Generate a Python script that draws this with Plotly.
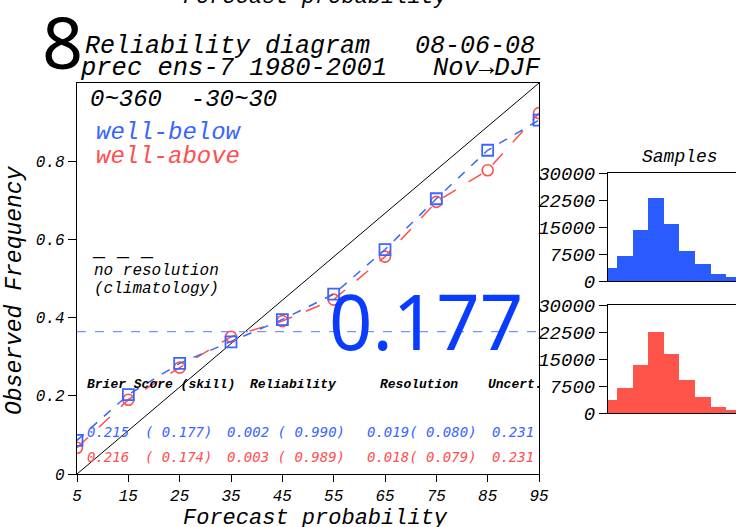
import plotly.graph_objects as go

W, H = 736, 527

# ---------------- data ----------------
prob_bins = [5, 15, 25, 35, 45, 55, 65, 75, 85, 95]
obs_below = [0.086, 0.203, 0.283, 0.338, 0.395, 0.460, 0.574, 0.704, 0.828, 0.905]
obs_above = [0.067, 0.190, 0.272, 0.351, 0.391, 0.446, 0.556, 0.696, 0.777, 0.923]
climatology = 0.364
samples_below = [3530, 7060, 14210, 23030, 15790, 8360, 4740, 1860, 1110, 500]
samples_above = [3690, 7020, 13290, 22430, 16430, 9050, 4520, 1750, 830, 400]
x_ticks = [5, 15, 25, 35, 45, 55, 65, 75, 85, 95]
y_ticks = [0, 0.2, 0.4, 0.6, 0.8]
y_tick_text = ["0", "0.2", "0.4", "0.6", "0.8"]
hist_ticks = [0, 7500, 15000, 22500, 30000]
hist_tick_text = ["0", "7500", "15000", "22500", "30000"]
stat_header = ["Brier Score (skill)", "Reliability", "Resolution", "Uncert."]
stats_below = ["0.215", "( 0.177)", "0.002 ( 0.990)", "0.019( 0.080)", "0.231"]
stats_above = ["0.216", "( 0.174)", "0.003 ( 0.989)", "0.018( 0.079)", "0.231"]

BLUE = "#3a66ff"
RED = "#ff5050"
CLIM = "#7393ff"
HERSHEY = "Liberation Mono"
SIMPLEX = "DejaVu Sans Mono"
NB = "\u00a0"


def px(x):
    return x / W


def py(y):
    return 1 - y / H


fig = go.Figure()

# diagonal (perfect reliability)
fig.add_trace(go.Scatter(x=[prob_bins[0], prob_bins[-1]], y=[0, 1], mode="lines",
                         line=dict(color="black", width=1), showlegend=False,
                         xaxis="x", yaxis="y"))
# climatology
fig.add_trace(go.Scatter(x=[prob_bins[0], prob_bins[-1]], y=[climatology, climatology],
                         mode="lines", line=dict(color=CLIM, width=1.2, dash="dash"),
                         showlegend=False, xaxis="x", yaxis="y"))
# series
fig.add_trace(go.Scatter(x=prob_bins, y=obs_above, mode="lines+markers",
                         line=dict(color=RED, width=1.5, dash="longdash"),
                         marker=dict(symbol="circle-open", size=11, color=RED,
                                     line=dict(width=1.6, color=RED)),
                         showlegend=False, cliponaxis=True, xaxis="x", yaxis="y"))
fig.add_trace(go.Scatter(x=prob_bins, y=obs_below, mode="lines+markers",
                         line=dict(color=BLUE, width=1.5, dash="dash"),
                         marker=dict(symbol="square-open", size=11, color=BLUE,
                                     line=dict(width=1.8, color=BLUE)),
                         showlegend=False, cliponaxis=True, xaxis="x", yaxis="y"))

# histograms
fig.add_trace(go.Bar(x=prob_bins, y=samples_below, width=10,
                     marker=dict(color="#2a5bff", line=dict(width=0)),
                     showlegend=False, xaxis="x2", yaxis="y2"))
fig.add_trace(go.Bar(x=prob_bins, y=samples_above, width=10,
                     marker=dict(color="#ff5449", line=dict(width=0)),
                     showlegend=False, xaxis="x3", yaxis="y3"))

tickfont = dict(family=HERSHEY, size=16, color="black", style="italic")
histfont = dict(family=HERSHEY, size=19, color="black", style="italic")
common = dict(showgrid=False, zeroline=False, automargin=False)

fig.update_layout(
    width=W, height=H, autosize=False,
    margin=dict(l=0, r=0, t=0, b=0, pad=0, autoexpand=False),
    paper_bgcolor="white", plot_bgcolor="white",
    bargap=0, hovermode=False,
    xaxis=dict(domain=[px(77), px(539)], range=[5, 95], tickvals=x_ticks,
               ticks="outside", ticklen=7, tickcolor="black", tickfont=tickfont,
               showline=True, linecolor="black", linewidth=1.2, mirror=True, **common),
    yaxis=dict(domain=[py(474), py(83)], range=[0, 1], tickvals=y_ticks, ticktext=y_tick_text,
               ticks="outside", ticklen=8, tickcolor="black", tickfont=tickfont,
               showline=True, linecolor="black", linewidth=1.2, mirror=True, **common),
    xaxis2=dict(domain=[px(608), 1.0], range=[4.2, 86.2], anchor="y2", showticklabels=False,
                ticks="", showline=True, linecolor="black", linewidth=1, mirror=True, **common),
    yaxis2=dict(domain=[py(281), py(173)], range=[0, 30000], anchor="x2",
                tickvals=hist_ticks, ticktext=hist_tick_text,
                ticks="outside", ticklen=8, tickcolor="black", tickfont=histfont,
                showline=True, linecolor="black", linewidth=1, **common),
    xaxis3=dict(domain=[px(608), 1.0], range=[4.2, 86.2], anchor="y3", showticklabels=False,
                ticks="", showline=True, linecolor="black", linewidth=1, mirror=True, **common),
    yaxis3=dict(domain=[py(413), py(305)], range=[0, 30000], anchor="x3",
                tickvals=hist_ticks, ticktext=hist_tick_text,
                ticks="outside", ticklen=8, tickcolor="black", tickfont=histfont,
                showline=True, linecolor="black", linewidth=1, **common),
)

ann = []


def A(text, x, y, size, color="black", family=HERSHEY, xanchor="left", yanchor="middle",
      italic=True, angle=0, weight="normal"):
    ann.append(dict(text=text, x=px(x), y=py(y), xref="paper", yref="paper",
                    xanchor=xanchor, yanchor=yanchor, showarrow=False, textangle=angle,
                    font=dict(family=family, size=size, color=color,
                              style="italic" if italic else "normal", weight=weight)))


# cut-off title of the panel above
A("Forecast probability", 315, -2, 22, xanchor="center")
# panel number
A("8", 62, 41, 72, family="Noto Sans", xanchor="center", italic=False)
# titles
A("Reliability diagram" + NB * 3 + "08-06-08", 83, 46, 25)
A("prec ens-7 1980-2001" + NB * 3 + "Nov\u2192DJF", 78, 69, 25.5)
# inside annotations
A("0~360" + NB * 2 + "-30~30", 88, 99, 24)
A("well-below", 94, 132, 24, color=BLUE)
A("well-above", 94, 156, 24, color=RED)
A("\u2014" + NB + "\u2014" + NB + "\u2014", 90, 257, 20, italic=False)
A("no resolution", 92, 271, 16)
A("(climatology)", 92, 289, 16)
# stats
hdr_x = [85, 248, 378, 486]
for t, x in zip(stat_header, hdr_x):
    A(t, x, 384, 13, weight="bold")
col_x = [85, 143, 225, 365, 490]
for t, x in zip(stats_below, col_x):
    A(t, x, 432, 14, color=BLUE, family=SIMPLEX)
for t, x in zip(stats_above, col_x):
    A(t, x, 457, 14, color=RED, family=SIMPLEX)
# axis titles
A("Observed Frequency", 15, 290, 23, xanchor="center", angle=-90)
A("Forecast probability", 315, 518, 22, xanchor="center")
A("Samples", 680, 157, 18, xanchor="center")
# big skill number
A("0.177", 426, 320, 76, color="#0a3cff", family="Noto Sans", xanchor="center", italic=False)

fig.update_layout(annotations=ann)

fig.write_html("out.html", config={"displayModeBar": False, "staticPlot": True},
               post_script="document.body.style.margin='0';document.body.style.overflow='hidden';")
